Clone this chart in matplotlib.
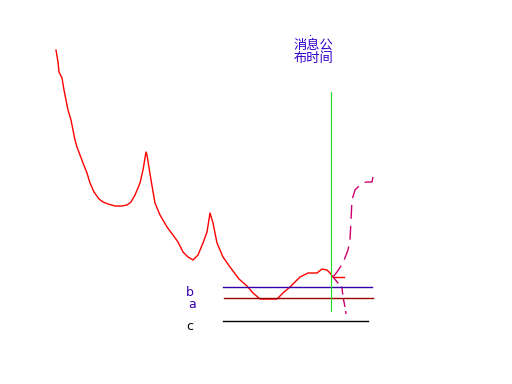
import matplotlib
matplotlib.use("Agg")
import matplotlib.pyplot as plt

plt.rcParams['font.family'] = ['Noto Sans CJK SC', 'DejaVu Sans']

# price curve (red), in picture coordinates
red_x = [56, 58, 59, 62, 64, 66, 68, 71, 73, 75, 77, 80, 83, 87, 90, 94, 99, 103, 108, 115, 122, 127,
         131, 135, 140, 143, 146, 147,
         151, 155, 160, 167, 173, 178, 183, 188, 193, 198, 203, 207, 210, 213, 217, 223, 230, 239,
         247, 253, 260, 277, 283, 290, 300, 308, 317, 322, 327, 330, 333]
red_y = [50, 62, 72, 78, 90, 100, 110, 120, 130, 140, 147, 155, 163, 173, 183, 192, 199, 202, 204, 206, 206, 205,
         202, 195, 183, 170, 152, 155,
         180, 203, 215, 227, 235, 242, 252, 257, 260, 255, 243, 232, 213, 223, 243, 257, 267, 279,
         286, 293, 299, 299, 293, 287, 277, 273, 273, 269, 270, 273, 277]
tick_x = [333, 344]
tick_y = [277, 277]

# projected paths (magenta dashed)
up_x = [333, 337, 343, 348, 350, 351, 352, 355, 360, 366, 372, 373]
up_y = [277, 272, 263, 250, 240, 220, 200, 190, 185, 182, 182, 177]
down_x = [333, 338, 342, 343, 345, 346]
down_y = [277, 283, 288, 297, 307, 314]

# reference levels
level_names = ['b', 'a', 'c']
level_y = [287, 298, 321]
level_x0 = [223, 224, 223]
level_x1 = [372, 373, 368]
level_colors = ['#3300aa', '#990000', '#000000']
label_colors = ['#3300aa', '#3300aa', '#000000']
label_pos = [(190, 292), (192, 304), (190, 326)]

event_x = 331
event_y = [92, 311]
event_label = '消息公\n布时间'

fig = plt.figure(figsize=(5.12, 3.84), dpi=100)
ax = fig.add_axes([0, 0, 1, 1])
ax.set_xlim(0, 512)
ax.set_ylim(384, 0)
ax.axis('off')

ax.plot(red_x, red_y, color='#ff0000', lw=1.0)
ax.plot(tick_x, tick_y, color='#ff0000', lw=1.0)
ax.plot(up_x, up_y, color='#d0006f', lw=1.0, linestyle=(0, (10, 5)))
ax.plot(down_x, down_y, color='#d0006f', lw=1.0, linestyle=(0, (6, 3)))

for name, y, x0, x1, c, lc, (lx, ly) in zip(level_names, level_y, level_x0, level_x1,
                                             level_colors, label_colors, label_pos):
    ax.plot([x0, x1], [y, y], color=c, lw=1.0)
    ax.text(lx, ly, name, color=lc, fontsize=9, ha='center', va='center',
            family=['DejaVu Sans'])

ax.plot([event_x, event_x], event_y, color='#22dd22', lw=0.8)
ax.plot([310], [35], marker='s', ms=0.8, color='#3300cc', mew=0)
ax.text(313, 52, event_label, color='#3300cc', fontsize=9.5, ha='center', va='center',
        linespacing=1.0)

fig.savefig('out.png', dpi=100)
